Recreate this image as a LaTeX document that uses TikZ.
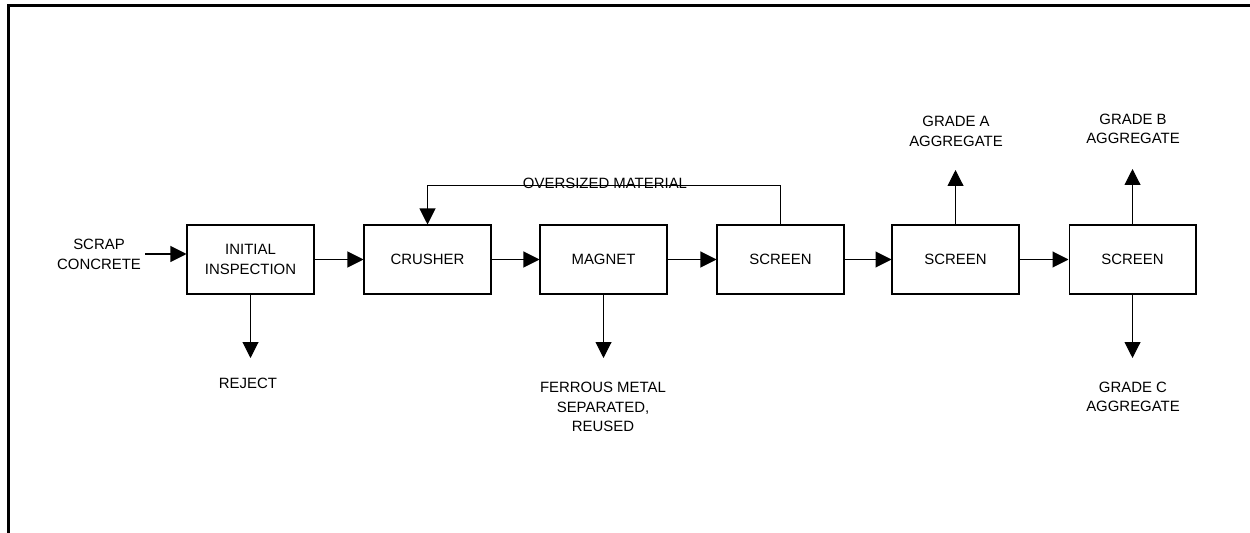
\documentclass[tikz,border=0pt]{standalone}
\usepackage{fontspec}
\setmainfont{Liberation Sans}
\usetikzlibrary{arrows.meta}
\begin{document}
\begin{tikzpicture}[x=0.02cm, y=-0.02cm,
  font=\fontsize{8.5pt}{11.1pt}\selectfont,
  block/.style={draw, rectangle, minimum width=2.54cm, minimum height=1.38cm, align=center, line width=0.6pt},
  tag/.style={align=center, inner sep=0pt},
  flow/.style={-{Triangle[length=0.32cm, width=0.32cm]}, line width=0.6pt}]

\useasboundingbox (0,0) rectangle (1250,533);

% frame
\draw[line width=2pt] (8.5,533) -- (8.5,5.5) -- (1250,5.5);

\node[block] (inspect) at (250.5,259.5) {INITIAL\\INSPECTION};

\node[block] (crusher) at (427.5,259.5) {CRUSHER};

\node[block] (magnet) at (603.5,259.5) {MAGNET};

\node[block] (screen1) at (780.5,259.5) {SCREEN};

\node[block] (screen2) at (955.5,259.5) {SCREEN};

\node[block] (screen3) at (1132.5,259.5) {SCREEN};

\node[tag] (scrap) at (99,254.5) {SCRAP\\CONCRETE};
\node[tag] (reject) at (248,383) {REJECT};
\node[tag] (ferrous) at (603,407) {FERROUS METAL\\SEPARATED,\\REUSED};
\node[tag] (oversized) at (605,183.5) {OVERSIZED MATERIAL};
\node[tag] (gradea) at (956,131.5) {GRADE A\\AGGREGATE};
\node[tag] (gradeb) at (1133,129) {GRADE B\\AGGREGATE};
\node[tag] (gradec) at (1133,397) {GRADE C\\AGGREGATE};

\coordinate (scrapin) at (145,254);
\coordinate (rejectout) at (250.5,358);
\coordinate (ferrousout) at (603.5,358);
\coordinate (gradeaout) at (955.5,170);
\coordinate (gradebout) at (1132.5,169);
\coordinate (gradecout) at (1132.5,358);

\draw[flow] (scrapin) -- (scrapin -| inspect.west);
\draw[flow] (inspect) -- (crusher);
\draw[flow] (crusher) -- (magnet);
\draw[flow] (magnet) -- (screen1);
\draw[flow] (screen1) -- (screen2);
\draw[flow] (screen2) -- (screen3);

\draw[flow] (inspect.south) -- (rejectout);
\draw[flow] (magnet.south) -- (ferrousout);
\draw[flow] (screen2.north) -- (gradeaout);
\draw[flow] (screen3.north) -- (gradebout);
\draw[flow] (screen3.south) -- (gradecout);

% oversized material back to the crusher
\draw[flow] (screen1.north) -- ++(0,-39) -| (crusher.north);

\end{tikzpicture}
\end{document}
